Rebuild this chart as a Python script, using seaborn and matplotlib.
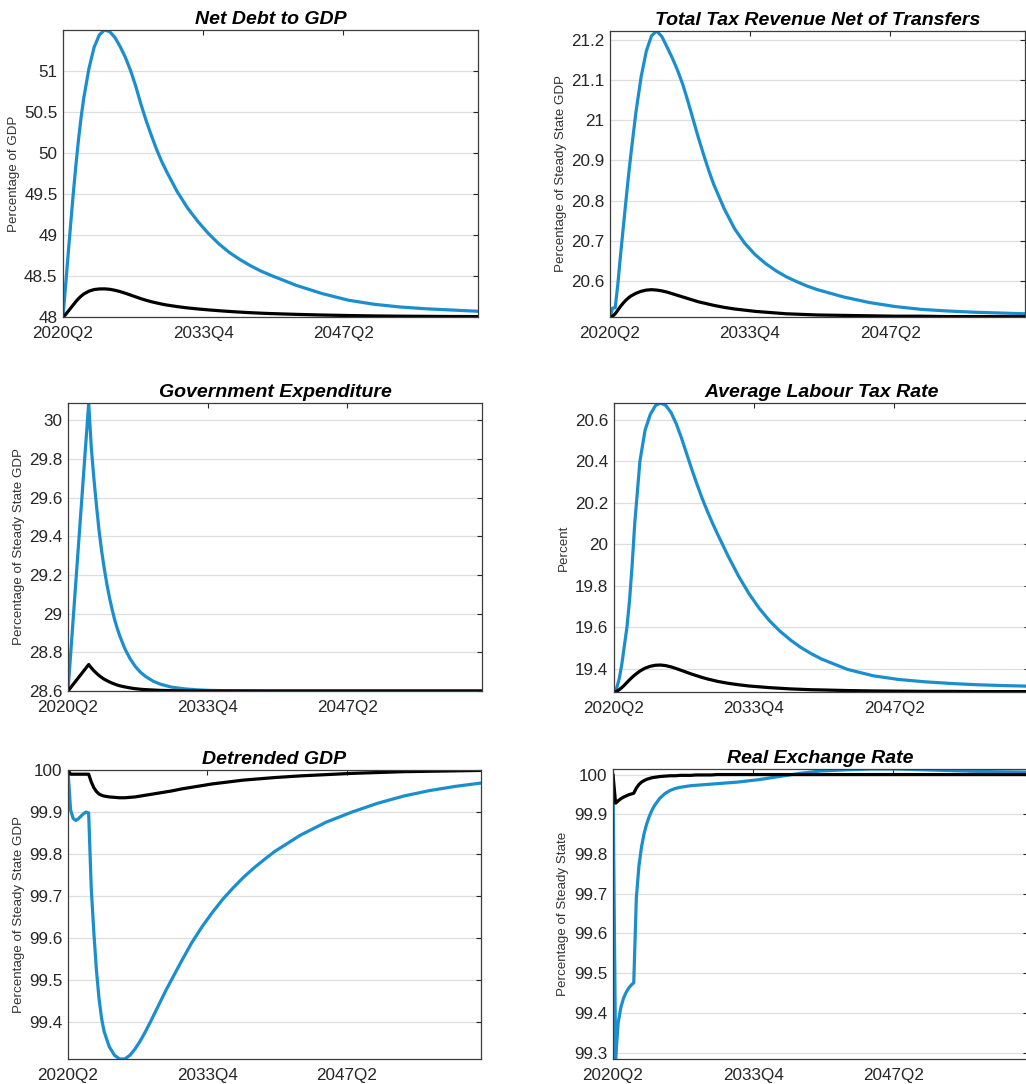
import matplotlib
matplotlib.use("Agg")
import matplotlib.pyplot as plt
from matplotlib.ticker import FixedLocator, FuncFormatter
import seaborn as sns

# ---------------------------------------------------------------
# Quarter index (0 = 2020Q2) and responses for each variable
# ---------------------------------------------------------------
x_tick_quarters = [0, 54, 108]
x_tick_labels = ["2020Q2", "2033Q4", "2047Q2"]
n_quarters = 160

# Shared quarter grid for the fiscal ratios
q_fiscal = [0, 1, 2, 3, 4, 5, 6, 7, 8,
            10, 12, 14, 16, 18, 20, 22, 24, 26, 28, 30, 32, 34, 36, 38, 40,
            44, 48, 52, 56, 60, 64, 68, 72, 76, 80,
            90, 100, 110, 120, 130, 140, 150, 160]

debt_blue = [48.0, 48.38, 48.77, 49.15, 49.52, 49.86, 50.17, 50.44, 50.67,
             51.03, 51.29, 51.44, 51.5, 51.48, 51.41, 51.3, 51.17, 51.01, 50.82,
             50.6, 50.4, 50.22, 50.05, 49.9, 49.77,
             49.53, 49.33, 49.165, 49.02, 48.895, 48.79, 48.705, 48.63, 48.565,
             48.51,
             48.385, 48.285, 48.205, 48.155, 48.122, 48.1, 48.085, 48.07]
debt_black = [48.0, 48.03, 48.07, 48.11, 48.15, 48.19, 48.225, 48.255, 48.28,
              48.315, 48.335, 48.342, 48.343, 48.338, 48.326, 48.31, 48.29, 48.268,
              48.246, 48.224, 48.204, 48.187, 48.172, 48.158, 48.146,
              48.127, 48.111, 48.098, 48.087, 48.077, 48.068, 48.06, 48.053,
              48.047, 48.042,
              48.032, 48.024, 48.018, 48.013, 48.01, 48.008, 48.006, 48.005]
debt_ticks = [48, 48.5, 49, 49.5, 50, 50.5, 51]

tax_blue = [20.51, 20.532, 20.533, 20.59, 20.66, 20.725, 20.79, 20.853, 20.912,
            21.02, 21.108, 21.172, 21.21, 21.222, 21.208, 21.182, 21.155, 21.125,
            21.09, 21.048, 21.003, 20.958, 20.916, 20.876, 20.84,
            20.78, 20.73, 20.693, 20.665, 20.643, 20.625, 20.61, 20.598, 20.587,
            20.578,
            20.56, 20.546, 20.536, 20.529, 20.525, 20.522, 20.52, 20.518]
tax_black = [20.51, 20.512, 20.518, 20.527, 20.536, 20.544, 20.551, 20.557, 20.562,
             20.569, 20.574, 20.577, 20.578, 20.577, 20.575, 20.572, 20.568, 20.564,
             20.56, 20.556, 20.552, 20.548, 20.545, 20.542, 20.539,
             20.534, 20.53, 20.527, 20.524, 20.522, 20.52, 20.518, 20.517, 20.516,
             20.515,
             20.514, 20.513, 20.512, 20.512, 20.511, 20.511, 20.511, 20.511]
tax_ticks = [20.6, 20.7, 20.8, 20.9, 21, 21.1, 21.2]

labour_blue = [19.287, 19.305, 19.35, 19.42, 19.51, 19.6, 19.73, 19.9, 20.1,
               20.4, 20.55, 20.625, 20.668, 20.68, 20.668, 20.634, 20.58, 20.512,
               20.436, 20.36, 20.288, 20.22, 20.158, 20.1, 20.046,
               19.942, 19.846, 19.762, 19.69, 19.63, 19.58, 19.538, 19.502, 19.472,
               19.446,
               19.396, 19.365, 19.347, 19.336, 19.328, 19.322, 19.318, 19.315]
labour_black = [19.287, 19.29, 19.298, 19.308, 19.32, 19.333, 19.346, 19.358, 19.369,
                19.388, 19.402, 19.411, 19.416, 19.417, 19.414, 19.408, 19.4, 19.391,
                19.382, 19.373, 19.365, 19.357, 19.35, 19.344, 19.338,
                19.329, 19.322, 19.316, 19.312, 19.308, 19.305, 19.302, 19.3,
                19.298, 19.297,
                19.294, 19.292, 19.291, 19.29, 19.29, 19.289, 19.289, 19.289]
labour_ticks = [19.4, 19.6, 19.8, 20, 20.2, 20.4, 20.6]

q_gov = [0, 8, 9, 10, 11, 12, 13, 14, 15, 16, 17, 18, 19, 20,
         22, 24, 26, 28, 30, 33, 36, 40, 45, 50, 55, 60,
         70, 80, 100, 120, 140, 160]
gov_blue = [28.6, 30.09, 29.86, 29.7, 29.56, 29.43, 29.325, 29.235, 29.155, 29.085,
            29.025, 28.97, 28.925, 28.885,
            28.818, 28.767, 28.727, 28.697, 28.675, 28.65, 28.634, 28.62, 28.611,
            28.606, 28.603, 28.602,
            28.601, 28.6, 28.6, 28.6, 28.6, 28.6]
gov_black = [28.6, 28.737, 28.72, 28.705, 28.692, 28.68, 28.67, 28.661, 28.654,
             28.647, 28.641, 28.636, 28.631, 28.627,
             28.621, 28.616, 28.612, 28.609, 28.607, 28.605, 28.603, 28.602, 28.601,
             28.6, 28.6, 28.6,
             28.6, 28.6, 28.6, 28.6, 28.6, 28.6]
gov_ticks = [28.6, 28.8, 29, 29.2, 29.4, 29.6, 29.8, 30]

q_gdp = [0, 1, 2, 3, 4, 5, 6, 7, 8, 9, 10, 11, 12, 13, 14,
         16, 18, 20, 22, 24, 26, 28, 30, 32, 34, 36, 38, 40,
         44, 48, 52, 56, 60, 64, 68, 72, 76, 80,
         90, 100, 110, 120, 130, 140, 150, 160]
gdp_blue = [100.0, 99.905, 99.885, 99.88, 99.884, 99.89, 99.896, 99.9, 99.898,
            99.72, 99.615, 99.525, 99.458, 99.41, 99.378,
            99.342, 99.322, 99.313, 99.313, 99.322, 99.337, 99.356, 99.378, 99.402,
            99.427, 99.452, 99.477, 99.5,
            99.546, 99.59, 99.628, 99.662, 99.693, 99.72, 99.745, 99.767, 99.787,
            99.806,
            99.845, 99.876, 99.9, 99.921, 99.938, 99.951, 99.961, 99.969]
gdp_black = [100.0, 99.99, 99.99, 99.99, 99.99, 99.99, 99.99, 99.99, 99.99,
             99.972, 99.958, 99.949, 99.943, 99.94, 99.938,
             99.936, 99.935, 99.934, 99.934, 99.935, 99.936, 99.938, 99.94, 99.942,
             99.944, 99.946, 99.948, 99.95,
             99.955, 99.959, 99.963, 99.967, 99.97, 99.973, 99.976, 99.978, 99.98,
             99.982,
             99.986, 99.989, 99.992, 99.994, 99.996, 99.997, 99.998, 99.999]
gdp_ticks = [99.4, 99.5, 99.6, 99.7, 99.8, 99.9, 100]

q_rer = [0, 1, 2, 3, 4, 5, 6, 7, 8, 9, 10, 11, 12, 13, 14, 15, 16,
         18, 20, 22, 24, 26, 28, 30, 32, 34, 36, 38, 40,
         44, 48, 52, 56, 60, 64, 68, 72, 76, 80,
         90, 100, 110, 120, 130, 140, 150, 160]
rer_blue = [100.0, 99.284, 99.375, 99.413, 99.436, 99.451, 99.462, 99.47, 99.476,
            99.69, 99.77, 99.818, 99.852, 99.876, 99.895, 99.91, 99.922,
            99.94, 99.952, 99.96, 99.965, 99.968, 99.97, 99.972, 99.973, 99.974,
            99.975, 99.976, 99.977,
            99.979, 99.981, 99.984, 99.987, 99.991, 99.995, 99.999, 100.003,
            100.006, 100.009,
            100.012, 100.014, 100.014, 100.012, 100.01, 100.008, 100.007, 100.006]
rer_black = [100.0, 99.928, 99.934, 99.939, 99.943, 99.946, 99.949, 99.951, 99.953,
             99.966, 99.975, 99.981, 99.985, 99.988, 99.99, 99.992, 99.993,
             99.995, 99.996, 99.997, 99.997, 99.998, 99.998, 99.998, 99.999, 99.999,
             99.999, 99.999, 100.0,
             100.0, 100.0, 100.0, 100.0, 100.0, 100.0, 100.0, 100.0, 100.0, 100.0,
             100.0, 100.0, 100.0, 100.0, 100.0, 100.0, 100.0, 100.0]
rer_ticks = [99.3, 99.4, 99.5, 99.6, 99.7, 99.8, 99.9, 100]

titles = ["Net Debt to GDP", "Total Tax Revenue Net of Transfers",
          "Government Expenditure", "Average Labour Tax Rate",
          "Detrended GDP", "Real Exchange Rate"]
ylabels = ["Percentage of GDP", "Percentage of Steady State GDP",
           "Percentage of Steady State GDP", "Percent",
           "Percentage of Steady State GDP", "Percentage of Steady State"]

# ---------------------------------------------------------------
# Styling
# ---------------------------------------------------------------
sns.set_theme(style="white")
plt.rcParams["font.family"] = ["Liberation Sans", "DejaVu Sans"]

BLUE = "#1b8fce"
BLACK = "#000000"
AX_COL = "#262626"

W, H = 1026, 1084
fig = plt.figure(figsize=(W / 100, H / 100), dpi=100)
fig.patch.set_facecolor("white")

# panel boxes in pixels: left, top, width, height, ylabel centre x
boxes = [
    (63, 30, 415, 287, 14),
    (610, 31, 415, 286, 561),
    (68, 403, 414, 288, 19),
    (614, 403, 415, 289, 564),
    (68, 770, 413, 289, 19),
    (613, 769, 415, 290, 563),
]

panels = [
    (q_fiscal, debt_blue, debt_black, debt_ticks),
    (q_fiscal, tax_blue, tax_black, tax_ticks),
    (q_gov, gov_blue, gov_black, gov_ticks),
    (q_fiscal, labour_blue, labour_black, labour_ticks),
    (q_gdp, gdp_blue, gdp_black, gdp_ticks),
    (q_rer, rer_blue, rer_black, rer_ticks),
]

fmt = FuncFormatter(lambda v, _: f"{v:g}")

for (left, top, width, height, lab_x), (qs, blue, black, yt), title, ylab in zip(
        boxes, panels, titles, ylabels):
    ax = fig.add_axes([left / W, 1 - (top + height) / H, width / W, height / H])
    sns.lineplot(x=qs, y=blue, color=BLUE, linewidth=2.3, ax=ax,
                 errorbar=None, sort=False)
    sns.lineplot(x=qs, y=black, color=BLACK, linewidth=2.3, ax=ax,
                 errorbar=None, sort=False)

    ax.set_xlim(0, n_quarters)
    ax.set_ylim(min(min(blue), min(black)), max(max(blue), max(black)))

    ax.xaxis.set_major_locator(FixedLocator(x_tick_quarters))
    ax.set_xticklabels(x_tick_labels)
    ax.yaxis.set_major_locator(FixedLocator(yt))
    ax.yaxis.set_major_formatter(fmt)

    ax.set_axisbelow(True)
    ax.yaxis.grid(True, color="#dedede", linewidth=0.9)
    ax.xaxis.grid(False)

    for sp in ax.spines.values():
        sp.set_color("#3c3c3c")
        sp.set_linewidth(0.9)

    ax.tick_params(axis="both", direction="in", length=3.5, width=0.8,
                   colors=AX_COL, labelsize=12.3, top=True, right=True)
    ax.tick_params(axis="y", pad=4)
    ax.tick_params(axis="x", pad=6.5)
    for lbl in ax.get_xticklabels() + ax.get_yticklabels():
        lbl.set_color(AX_COL)

    ax.set_title(title, fontsize=14, fontweight="bold", fontstyle="italic",
                 color="black", pad=4)
    ax.set_ylabel(ylab, fontsize=9.6, color="#333333", va="center")
    ax.yaxis.set_label_coords((lab_x - left) / width, 0.5)
    ax.set_xlabel("")

fig.savefig("out.png", dpi=100, facecolor="white")
